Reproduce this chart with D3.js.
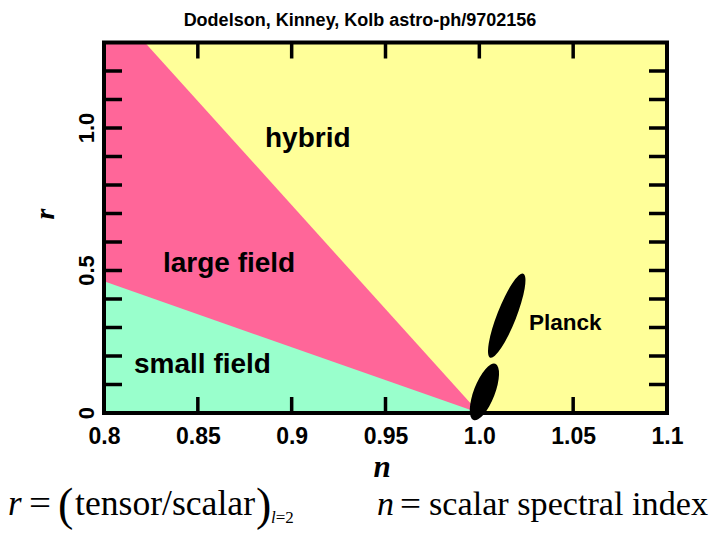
<!DOCTYPE html>
<html><head><meta charset="utf-8">
<script src="https://cdn.jsdelivr.net/npm/d3@7"></script>
<style>body{margin:0;background:#fff}svg{display:block}</style>
</head><body>
<script>
// ---- data ----
const title = "Dodelson, Kinney, Kolb astro-ph/9702156";
const xTicks = [0.8, 0.85, 0.9, 0.95, 1.0, 1.05, 1.1];
const xTickLabels = ["0.8", "0.85", "0.9", "0.95", "1.0", "1.05", "1.1"];
const xInnerTicks = [0.85, 0.9, 0.95, 1.0, 1.05];
const yTicks = [0, 0.5, 1.0];
const yTickLabels = ["0", "0.5", "1.0"];
const yMinorTicks = [0.1, 0.2, 0.3, 0.4, 0.5, 0.6, 0.7, 0.8, 0.9, 1.0, 1.1, 1.2];
const smallFieldBoundary = [[0.8, 0.462], [1.0, 0]];
const hybridBoundary = [[0.8218, 1.3], [1.0, 0]];
const planckEllipses = [
  {n: 1.0146, r: 0.3415, tipN: 1.0234, tipR: 0.489},
  {n: 1.0027, r: 0.074, tipN: 1.0085, tipR: 0.1725}
];
const regionLabels = [
  {text: "hybrid", n: 0.8858, r: 0.933},
  {text: "large field", n: 0.8314, r: 0.495},
  {text: "small field", n: 0.816, r: 0.140},
  {text: "Planck", n: 1.0264, r: 0.291}
];

// ---- layout ----
const W = 720, H = 540;
const L = 104, R = 667, T = 42.5, B = 413;
const x = d3.scaleLinear().domain([0.8, 1.1]).range([L, R]);
const y = d3.scaleLinear().domain([0, 1.3]).range([B, T]);
const sans = "Arial, 'Liberation Sans', sans-serif";
const serif = "'Liberation Serif', 'Times New Roman', serif";

const svg = d3.select("body").append("svg").attr("width", W).attr("height", H);

svg.append("text").attr("x", 360).attr("y", 26).attr("text-anchor", "middle")
  .attr("font-family", sans).attr("font-weight", "bold")
  .attr("font-size", 18).text(title);

const g = svg.append("g");
g.append("rect").attr("x", L).attr("y", T).attr("width", R - L).attr("height", B - T).attr("fill", "#ffff99");
const line = d3.line().x(d => x(d[0])).y(d => y(d[1]));
g.append("path").attr("fill", "#ff6699")
  .attr("d", line([[0.8, 1.3], hybridBoundary[0], hybridBoundary[1], [0.8, 0]]) + "Z");
g.append("path").attr("fill", "#99ffcc")
  .attr("d", line([smallFieldBoundary[0], smallFieldBoundary[1], [0.8, 0]]) + "Z");

// ticks
const tk = svg.append("g").attr("stroke", "#000").attr("stroke-width", 3.5);
yMinorTicks.forEach(v => {
  tk.append("line").attr("x1", L).attr("x2", L + 18).attr("y1", y(v)).attr("y2", y(v));
  tk.append("line").attr("x1", R - 18).attr("x2", R).attr("y1", y(v)).attr("y2", y(v));
});
xInnerTicks.forEach(v => {
  tk.append("line").attr("x1", x(v)).attr("x2", x(v)).attr("y1", T).attr("y2", T + 16);
  tk.append("line").attr("x1", x(v)).attr("x2", x(v)).attr("y1", B - 16).attr("y2", B);
});
// frame
svg.append("rect").attr("x", L).attr("y", T).attr("width", R - L).attr("height", B - T)
  .attr("fill", "none").attr("stroke", "#000").attr("stroke-width", 4);

// Planck ellipses
planckEllipses.forEach((e, i) => {
  const cx = x(e.n), cy = y(e.r), tx = x(e.tipN), ty = y(e.tipR);
  const a = Math.hypot(tx - cx, ty - cy);
  const ang = Math.atan2(ty - cy, tx - cx) * 180 / Math.PI;
  svg.append("ellipse").attr("cx", cx).attr("cy", cy).attr("rx", a).attr("ry", i === 0 ? 9.5 : 10.5)
    .attr("transform", `rotate(${ang},${cx},${cy})`).attr("fill", "#000");
});

// region labels
regionLabels.forEach(d => {
  svg.append("text").attr("x", x(d.n)).attr("y", y(d.r))
    .attr("font-family", sans).attr("font-weight", "bold")
    .attr("font-size", d.text === "Planck" ? 22.5 : 28).text(d.text);
});

// x tick labels
const xa = d3.axisBottom(x).tickValues(xTicks).tickFormat((d, i) => xTickLabels[i]).tickSize(0).tickPadding(0);
const xg = svg.append("g").attr("transform", `translate(0,${B})`).call(xa);
xg.select(".domain").remove();
xg.selectAll("text").attr("font-family", sans)
  .attr("font-weight", "bold").attr("font-size", 23).attr("fill", "#000").attr("dy", null).attr("y", 31);

// y tick labels (rotated)
yTicks.forEach((v, i) => {
  svg.append("text").attr("transform", `translate(94,${y(v)}) rotate(-90)`).attr("text-anchor", "middle")
    .attr("font-family", sans).attr("font-weight", "bold")
    .attr("font-size", 22).text(yTickLabels[i]);
});

// axis titles
svg.append("text").attr("transform", "translate(54,214) rotate(-90)").attr("text-anchor", "middle")
  .attr("font-family", serif).attr("font-style", "italic")
  .attr("font-weight", "bold").attr("font-size", 28).text("r");
svg.append("text").attr("x", 382).attr("y", 477).attr("text-anchor", "middle")
  .attr("font-family", serif).attr("font-style", "italic")
  .attr("font-weight", "bold").attr("font-size", 31).text("n");

// formulas
const f1 = svg.append("text").attr("y", 515).attr("font-family", serif).attr("font-size", 35);
f1.append("tspan").attr("x", 8).attr("font-style", "italic").text("r");
f1.append("tspan").attr("x", 29).attr("textLength", 22).attr("lengthAdjust", "spacingAndGlyphs").text("=");
f1.append("tspan").attr("x", 58).attr("font-size", 46).attr("dy", 5).text("(");
f1.append("tspan").attr("x", 75).attr("dy", -5).attr("textLength", 180).attr("lengthAdjust", "spacingAndGlyphs").text("tensor/scalar");
f1.append("tspan").attr("x", 256).attr("font-size", 46).attr("dy", 5).text(")");
f1.append("tspan").attr("x", 271).attr("font-size", 17).attr("dy", 3).attr("font-style", "italic").text("l");
f1.append("tspan").attr("font-size", 17).text("=2");

const f2 = svg.append("text").attr("y", 515).attr("font-family", serif).attr("font-size", 34);
f2.append("tspan").attr("x", 377).attr("font-style", "italic").text("n");
f2.append("tspan").attr("x", 400).attr("textLength", 21).attr("lengthAdjust", "spacingAndGlyphs").text("=");
f2.append("tspan").attr("x", 429).attr("textLength", 279).attr("lengthAdjust", "spacingAndGlyphs").text("scalar spectral index");
</script>
</body></html>
